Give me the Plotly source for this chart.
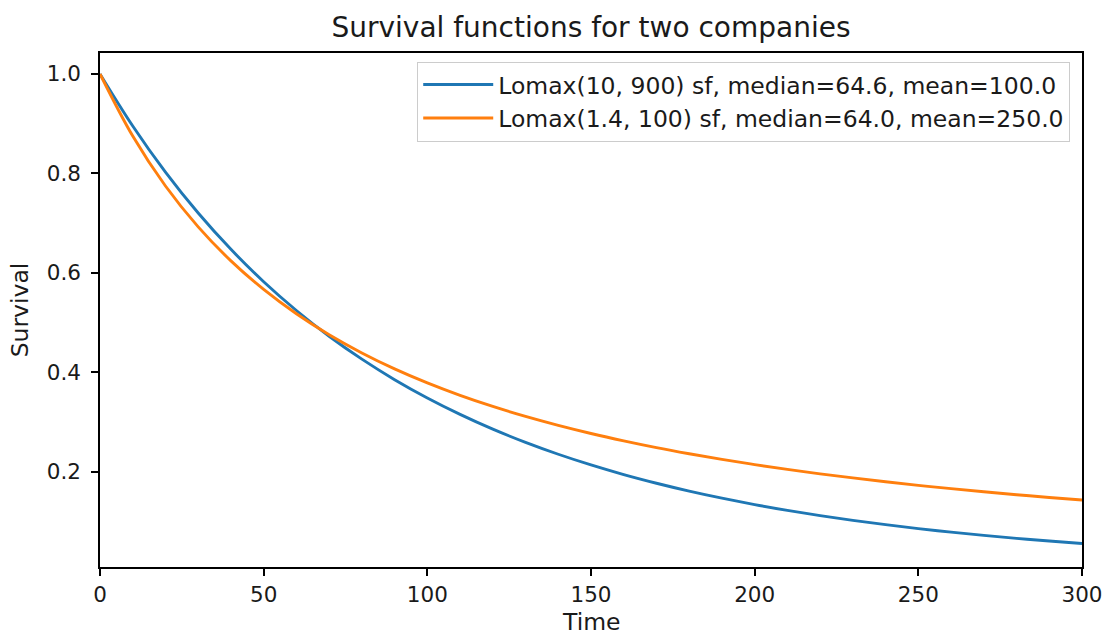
import plotly.graph_objects as go

# Values
time = [0, 10, 20, 30, 40, 50, 60, 70, 80, 90, 100, 110, 120, 130, 140, 150,
        160, 170, 180, 190, 200, 210, 220, 230, 240, 250, 260, 270, 280, 290, 300]
surv_a = [1.0, 0.8954, 0.8027, 0.7204, 0.6474, 0.5824, 0.5245, 0.4728, 0.4267, 0.3855,
          0.3487, 0.3157, 0.2860, 0.2595, 0.2356, 0.2141, 0.1947, 0.1773, 0.1615, 0.1473,
          0.1344, 0.1228, 0.1123, 0.1027, 0.0941, 0.0862, 0.0790, 0.0725, 0.0666, 0.0612, 0.0563]
surv_b = [1.0, 0.8751, 0.7747, 0.6926, 0.6243, 0.5669, 0.5179, 0.4758, 0.4392, 0.4071,
          0.3789, 0.3539, 0.3316, 0.3116, 0.2936, 0.2773, 0.2625, 0.2489, 0.2366, 0.2252,
          0.2148, 0.2052, 0.1962, 0.1880, 0.1803, 0.1731, 0.1664, 0.1602, 0.1543, 0.1488, 0.1436]
name_a = "Lomax(10, 900) sf, median=64.6, mean=100.0"
name_b = "Lomax(1.4, 100) sf, median=64.0, mean=250.0"
x_ticks = [0, 50, 100, 150, 200, 250, 300]
y_ticks = [0.2, 0.4, 0.6, 0.8, 1.0]
x_label = "Time"
y_label = "Survival"
title_text = "Survival functions for two companies"

FONT = "DejaVu Sans"
TXT = "#1a1a1a"
W, H = 1103, 636
L, R, T, B = 100, 21, 53, 69

fig = go.Figure()
fig.add_trace(go.Scatter(x=time, y=surv_a, mode="lines", name=name_a,
                         line=dict(color="#1f77b4", width=2.9, shape="spline")))
fig.add_trace(go.Scatter(x=time, y=surv_b, mode="lines", name=name_b,
                         line=dict(color="#ff7f0e", width=2.9, shape="spline")))

axis_common = dict(showline=True, mirror=True, linecolor="black", linewidth=1.5,
                   ticks="outside", ticklen=7, tickwidth=1.5, tickcolor="black",
                   showgrid=False, zeroline=False,
                   tickfont=dict(family=FONT, size=21.5, color=TXT))

fig.update_xaxes(range=[0, 300], tickvals=x_ticks, **axis_common)
fig.update_yaxes(range=[0.009, 1.042], tickvals=y_ticks, tickformat=".1f",
                 ticklabelstandoff=6,
                 title=dict(text=y_label, font=dict(family=FONT, size=23.5, color=TXT), standoff=12),
                 **axis_common)

# x-axis title as an annotation so it can sit near the bottom edge like the reference
fig.add_annotation(text=x_label, x=0.5, y=0, xref="paper", yref="paper",
                   xanchor="center", yanchor="top", yshift=-40, borderpad=0, showarrow=False,
                   font=dict(family=FONT, size=23.5, color=TXT))

fig.update_layout(
    width=W, height=H,
    margin=dict(l=L, r=R, t=T, b=B, autoexpand=False),
    paper_bgcolor="white", plot_bgcolor="white",
    font=dict(family=FONT, size=21.5, color=TXT),
    title=dict(text=title_text, x=0.5, xref="paper",
               y=1 - 27 / H, yref="container", yanchor="middle", xanchor="center",
               font=dict(family=FONT, size=28, color=TXT)),
    legend=dict(x=0.988, y=0.983, xanchor="right", yanchor="top",
                bordercolor="#cccccc", borderwidth=1, bgcolor="rgba(255,255,255,0.8)",
                font=dict(family=FONT, size=23.5, color=TXT),
                itemwidth=70, tracegroupgap=0),
    showlegend=True,
)

fig.write_html("out.html", config={"displayModeBar": False},
               post_script="document.body.style.margin='0px';document.body.style.overflow='hidden';")
